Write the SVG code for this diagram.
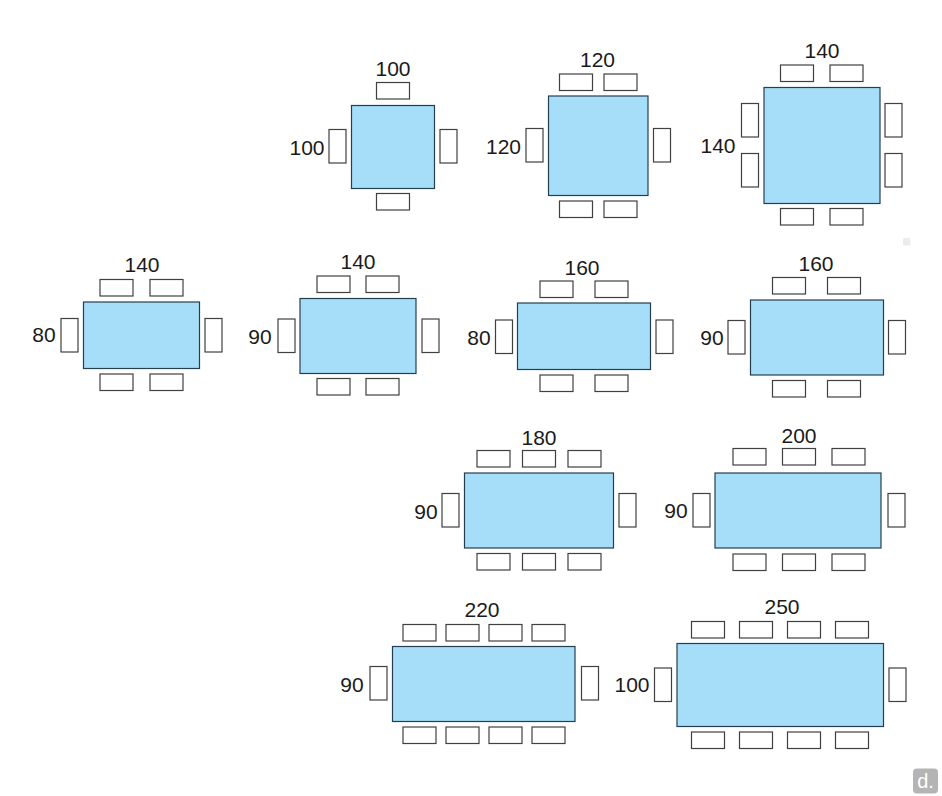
<svg xmlns="http://www.w3.org/2000/svg" width="942" height="796" viewBox="0 0 942 796">
<style>
.t{fill:#a6ddf9;stroke:#24404f;stroke-width:1.2}
.h,.v{fill:#fff;stroke:#404040;stroke-width:1.2}
.h{width:33px;height:16.5px}
.v{width:17px;height:33.5px}
text{font-family:"Liberation Sans",Arial,sans-serif;font-size:21px;fill:#1a1a1a;text-anchor:middle}
</style>
<rect width="942" height="796" fill="#fff"/>
<g id="table-100x100">
<rect class="t" x="351.5" y="105.5" width="83" height="83"/>
<rect class="h" x="376.5" y="82.5"/><rect class="h" x="376.5" y="193.5"/>
<rect class="v" x="329" y="129.5"/><rect class="v" x="440" y="129.5"/>
<text x="393" y="75.500">100</text><text x="307" y="154.500">100</text>
</g>
<g id="table-120x120">
<rect class="t" x="548.5" y="96" width="99.500" height="99.500"/>
<rect class="h" x="559.500" y="74"/><rect class="h" x="604" y="74"/>
<rect class="h" x="559.500" y="201"/><rect class="h" x="604" y="201"/>
<rect class="v" x="526" y="128.500"/><rect class="v" x="653.500" y="128.500"/>
<text x="597.500" y="66.500">120</text><text x="503.500" y="153.500">120</text>
</g>
<g id="table-140x140">
<rect class="t" x="764" y="87.500" width="116" height="116"/>
<rect class="h" x="780.500" y="65"/><rect class="h" x="830" y="65"/>
<rect class="h" x="780.500" y="208.500"/><rect class="h" x="830" y="208.500"/>
<rect class="v" x="741.500" y="103.500"/><rect class="v" x="741.500" y="153.500"/>
<rect class="v" x="885" y="103.500"/><rect class="v" x="885" y="153.500"/>
<text x="822" y="58">140</text><text x="718" y="152.500">140</text>
</g>
<g id="table-140x80">
<rect class="t" x="83.500" y="302" width="116" height="66.500"/>
<rect class="h" x="100" y="279.500"/><rect class="h" x="150" y="279.500"/>
<rect class="h" x="100" y="374"/><rect class="h" x="150" y="374"/>
<rect class="v" x="61" y="318.500"/><rect class="v" x="205" y="318.500"/>
<text x="142" y="272">140</text><text x="44" y="341.500">80</text>
</g>
<g id="table-140x90">
<rect class="t" x="300" y="298.500" width="116" height="75"/>
<rect class="h" x="317" y="276"/><rect class="h" x="366" y="276"/>
<rect class="h" x="317" y="378.500"/><rect class="h" x="366" y="378.500"/>
<rect class="v" x="278" y="319"/><rect class="v" x="422" y="319"/>
<text x="358" y="269">140</text><text x="260" y="343.500">90</text>
</g>
<g id="table-160x80">
<rect class="t" x="517.500" y="303" width="133" height="66.500"/>
<rect class="h" x="540" y="281"/><rect class="h" x="595" y="281"/>
<rect class="h" x="540" y="375"/><rect class="h" x="595" y="375"/>
<rect class="v" x="495.500" y="320"/><rect class="v" x="656" y="320"/>
<text x="582" y="275">160</text><text x="479" y="344.500">80</text>
</g>
<g id="table-160x90">
<rect class="t" x="750.500" y="300" width="133" height="75"/>
<rect class="h" x="772.500" y="277.500"/><rect class="h" x="827.500" y="277.500"/>
<rect class="h" x="772.500" y="380.500"/><rect class="h" x="827.500" y="380.500"/>
<rect class="v" x="728" y="320.500"/><rect class="v" x="888.500" y="320.500"/>
<text x="816" y="271">160</text><text x="712" y="345">90</text>
</g>
<g id="table-180x90">
<rect class="t" x="464.500" y="473" width="149" height="75"/>
<rect class="h" x="477" y="450.500"/><rect class="h" x="522.500" y="450.500"/><rect class="h" x="568" y="450.500"/>
<rect class="h" x="477" y="553.500"/><rect class="h" x="522.500" y="553.500"/><rect class="h" x="568" y="553.500"/>
<rect class="v" x="442" y="493.500"/><rect class="v" x="619" y="493.500"/>
<text x="539" y="445">180</text><text x="426" y="518.500">90</text>
</g>
<g id="table-200x90">
<rect class="t" x="715" y="473" width="166" height="75"/>
<rect class="h" x="733" y="448.500"/><rect class="h" x="782.500" y="448.500"/><rect class="h" x="832" y="448.500"/>
<rect class="h" x="733" y="554"/><rect class="h" x="782.500" y="554"/><rect class="h" x="832" y="554"/>
<rect class="v" x="693" y="493.500"/><rect class="v" x="888" y="493.500"/>
<text x="799" y="443">200</text><text x="676" y="517.500">90</text>
</g>
<g id="table-220x90">
<rect class="t" x="392.500" y="646.500" width="182.500" height="75"/>
<rect class="h" x="403" y="624.500"/><rect class="h" x="446" y="624.500"/><rect class="h" x="489" y="624.500"/><rect class="h" x="532" y="624.500"/>
<rect class="h" x="403" y="727"/><rect class="h" x="446" y="727"/><rect class="h" x="489" y="727"/><rect class="h" x="532" y="727"/>
<rect class="v" x="370" y="666.500"/><rect class="v" x="581.500" y="666.500"/>
<text x="482" y="617">220</text><text x="352" y="692">90</text>
</g>
<g id="table-250x100">
<rect class="t" x="677" y="643.500" width="206.500" height="83"/>
<rect class="h" x="691.500" y="621.500"/><rect class="h" x="739.500" y="621.500"/><rect class="h" x="787.500" y="621.500"/><rect class="h" x="835.500" y="621.500"/>
<rect class="h" x="691.500" y="732"/><rect class="h" x="739.500" y="732"/><rect class="h" x="787.500" y="732"/><rect class="h" x="835.500" y="732"/>
<rect class="v" x="654.500" y="668"/><rect class="v" x="889" y="668"/>
<text x="782" y="614">250</text><text x="632" y="692">100</text>
</g>
<rect x="903" y="238" width="7.500" height="7.500" rx="1.500" fill="#ececec"/>
<g id="logo">
<rect x="913" y="768.500" width="25" height="25" rx="4" fill="#b4b4b4"/>
<text x="925.500" y="787.500" style="font-size:20px;fill:#fff">d.</text>
</g>
</svg>
